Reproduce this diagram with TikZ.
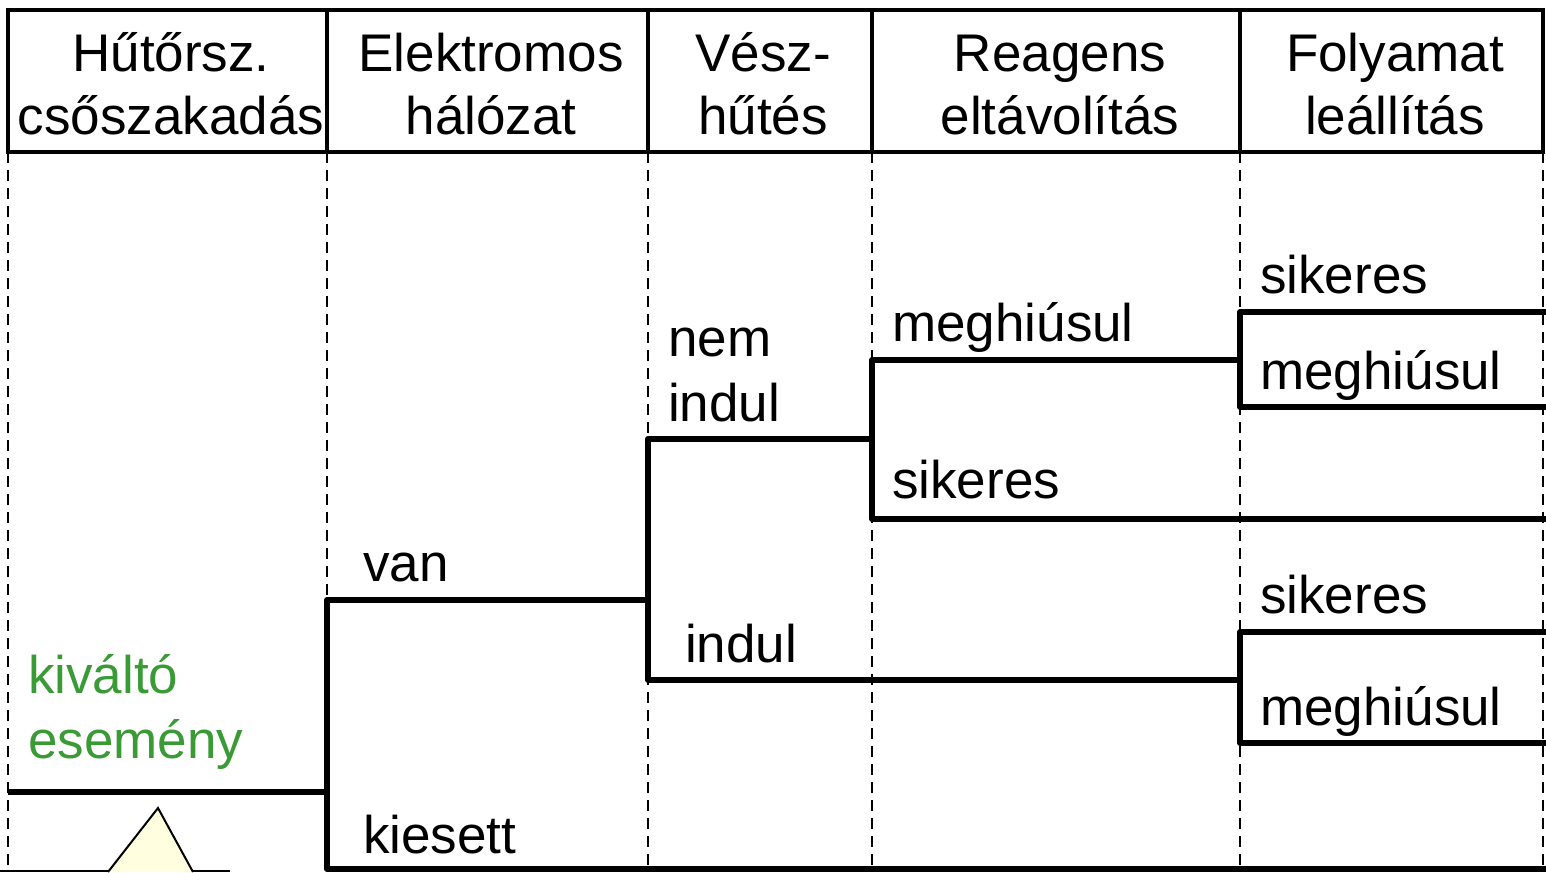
\documentclass[tikz,border=0pt]{standalone}
\usepackage{fontspec}
\setmainfont{Liberation Sans}
\definecolor{evgreen}{HTML}{3A9A35}
\definecolor{trifill}{HTML}{FFFFE0}
\begin{document}
\begin{tikzpicture}[x=1pt,y=-1pt,
  hdr/.style={line width=4.5pt},
  grid/.style={line width=2.2pt,dash pattern=on 11pt off 7pt},
  branch/.style={line width=6pt,line join=round,line cap=butt},
  lbl/.style={inner sep=0pt,anchor=base west,font=\fontsize{53}{63}\selectfont},
  htxt/.style={inner sep=0pt,anchor=base,font=\fontsize{53}{63}\selectfont}]
\useasboundingbox (0,0) rectangle (1546,872);
\begin{scope}
\clip (0,0) rectangle (1546,872);
% dashed column guides
\foreach \x in {8,327,648,872,1240,1543}
  \draw[grid] (\x,152) -- (\x,872);
% header frame
\draw[hdr] (8,10) rectangle (1543,152);
\foreach \x in {327,648,872,1240}
  \draw[hdr] (\x,10) -- (\x,152);
% header texts
\node[htxt] (h1a) at (171,72) {Hűtőrsz.};
\node[htxt] (h1b) at (171,135) {csőszakadás};
\node[htxt] (h2a) at (491,72) {Elektromos};
\node[htxt] (h2b) at (491,135) {hálózat};
\node[htxt] (h3a) at (763,72) {Vész-};
\node[htxt] (h3b) at (763,135) {hűtés};
\node[htxt] (h4a) at (1060,72) {Reagens};
\node[htxt] (h4b) at (1060,135) {eltávolítás};
\node[htxt] (h5a) at (1395,72) {Folyamat};
\node[htxt] (h5b) at (1395,135) {leállítás};
% branch points
\coordinate (s0) at (8,792);
\coordinate (e1) at (327,792);
\coordinate (e1t) at (327,600);
\coordinate (e1b) at (327,869);
\coordinate (e2) at (648,600);
\coordinate (e2t) at (648,439);
\coordinate (e2b) at (648,680);
\coordinate (e3) at (872,439);
\coordinate (e3t) at (872,360);
\coordinate (e3b) at (872,519);
\coordinate (e4) at (1240,360);
\coordinate (e4t) at (1240,312);
\coordinate (e4b) at (1240,407);
\coordinate (e5) at (1240,680);
\coordinate (e5t) at (1240,632);
\coordinate (e5b) at (1240,743);
\coordinate (r1) at (1546,312);
\coordinate (r2) at (1546,407);
\coordinate (r3) at (1546,519);
\coordinate (r4) at (1546,632);
\coordinate (r5) at (1546,743);
\coordinate (r6) at (1546,869);
% event tree
\draw[branch] (s0) -- (e1);
\draw[branch] (e2) -- (e1t) -- (e1b) -- (r6);
\draw[branch] (e3) -- (e2t) -- (e2b) -- (e5);
\draw[branch] (e4) -- (e3t) -- (e3b) -- (r3);
\draw[branch] (r1) -- (e4t) -- (e4b) -- (r2);
\draw[branch] (r4) -- (e5t) -- (e5b) -- (r5);
% labels
\node[lbl,text=evgreen] (kv1) at (28,693) {kiváltó};
\node[lbl,text=evgreen] (kv2) at (28,758) {esemény};
\node[lbl] (van) at (363,581) {van};
\node[lbl] (kies) at (363,853) {kiesett};
\node[lbl] (nem1) at (668,356) {nem};
\node[lbl] (nem2) at (668,421) {indul};
\node[lbl] (ind) at (685,662) {indul};
\node[lbl] (rmeg) at (892,341) {meghiúsul};
\node[lbl] (rsik) at (892,498) {sikeres};
\node[lbl] (f1) at (1260,293) {sikeres};
\node[lbl] (f2) at (1260,389) {meghiúsul};
\node[lbl] (f3) at (1260,613) {sikeres};
\node[lbl] (f4) at (1260,725) {meghiúsul};
% partly visible symbol at the bottom left
\draw[line width=2pt] (0,871) -- (230,871);
\draw[line width=2pt,fill=trifill,line join=miter] (108,872) -- (158,808) -- (193,872);
\end{scope}
\end{tikzpicture}
\end{document}
